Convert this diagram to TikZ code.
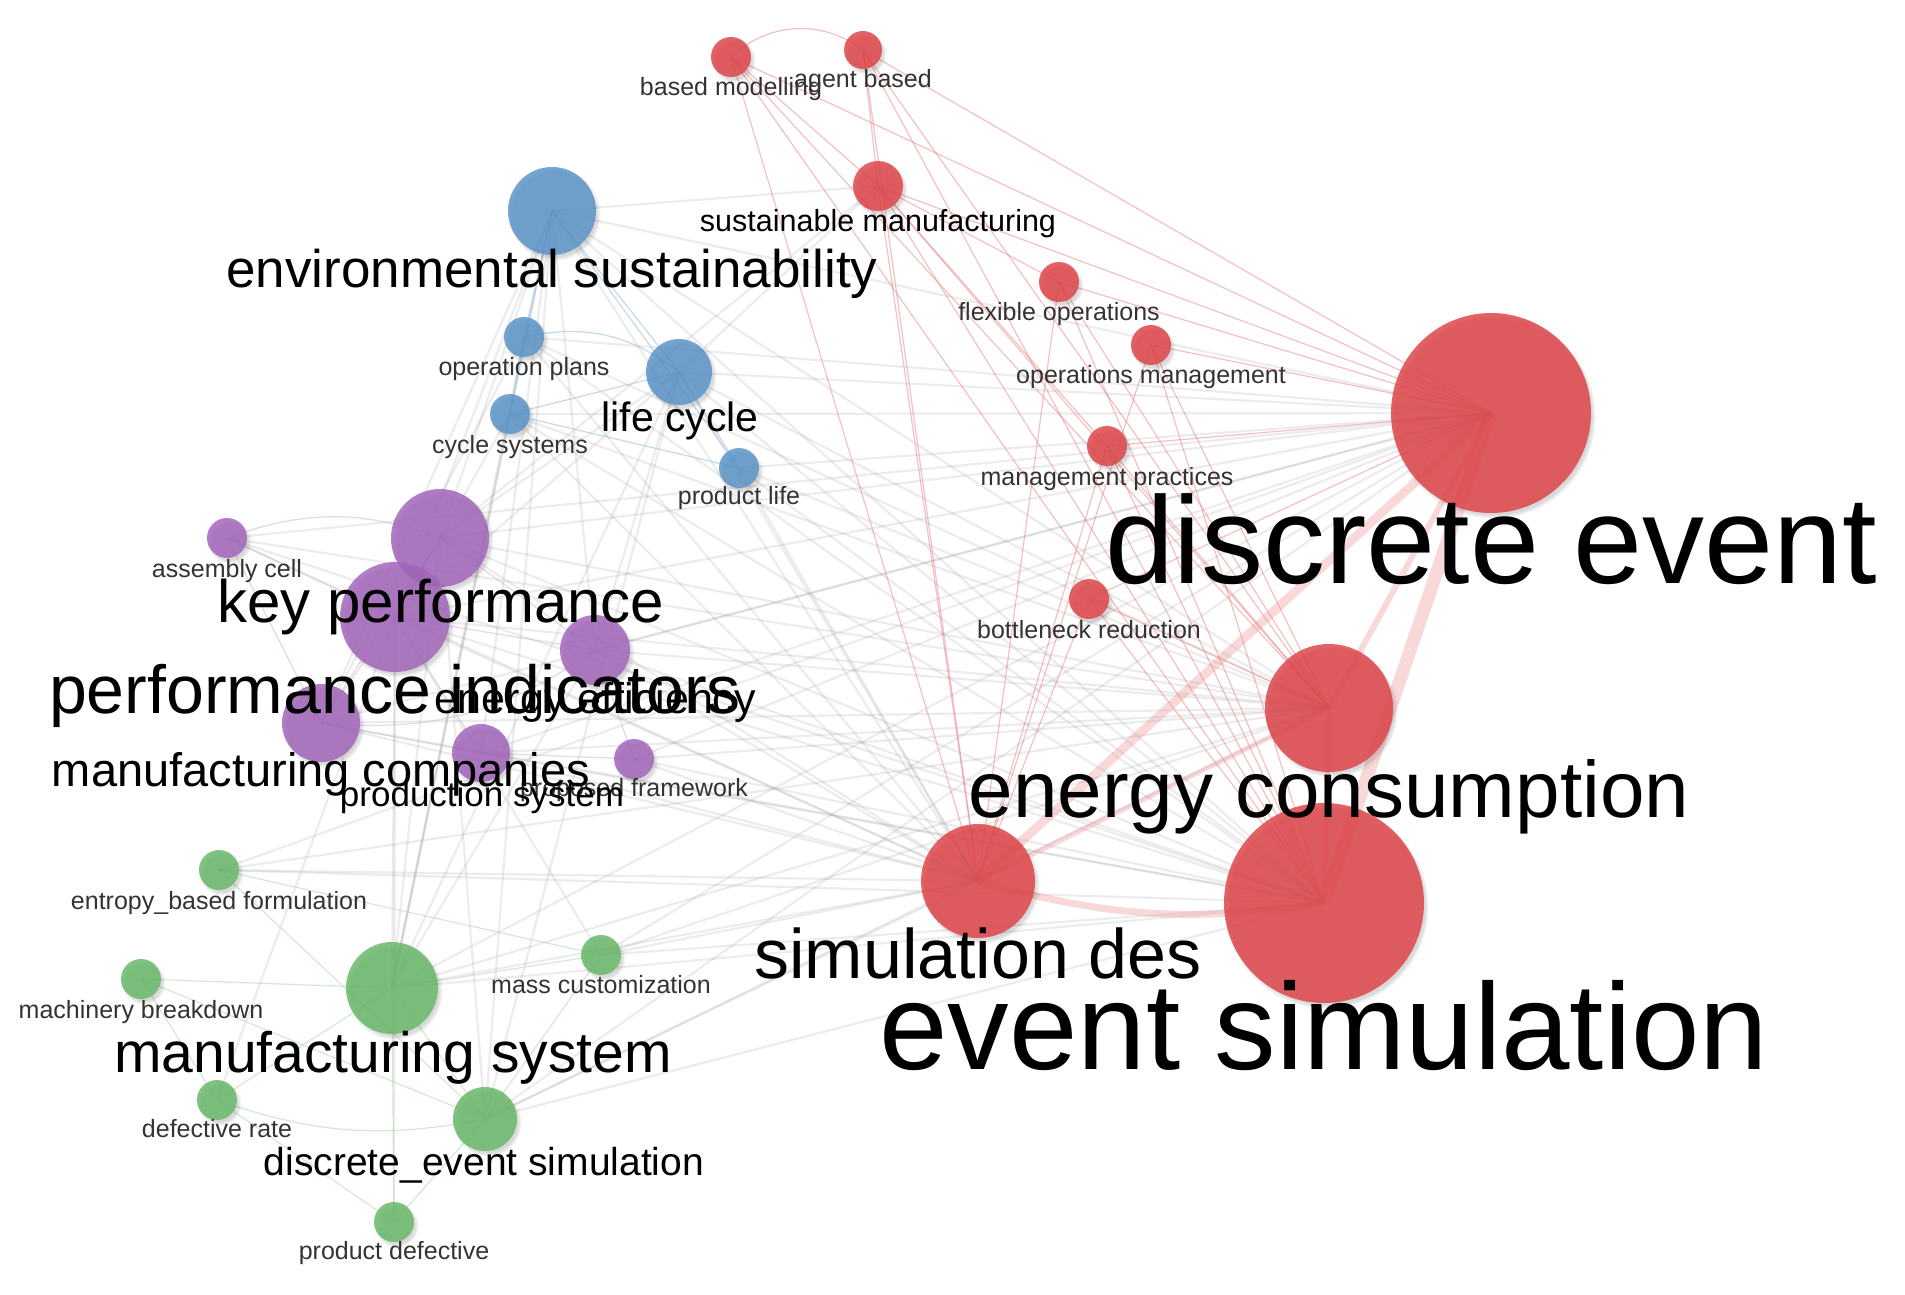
\documentclass[tikz,border=0pt]{standalone}
\usepackage{fontspec}
\setmainfont{Liberation Sans}
\usetikzlibrary{backgrounds,shadows.blur}
\definecolor{vosred}{RGB}{222,70,74}
\definecolor{vosblue}{RGB}{92,148,200}
\definecolor{vospurple}{RGB}{163,102,188}
\definecolor{vosgreen}{RGB}{106,184,106}
\tikzset{
  kw/.style={circle,draw=none,inner sep=0,outer sep=0,fill opacity=0.85,
             blur shadow={shadow xshift=3pt,shadow yshift=-4pt,shadow opacity=18,shadow blur steps=6}},
  kw red/.style={kw,fill=vosred},
  kw blue/.style={kw,fill=vosblue},
  kw purple/.style={kw,fill=vospurple},
  kw green/.style={kw,fill=vosgreen},
  link/.style={gray!75,line width=2.2pt,opacity=0.2},
  link red/.style={vosred!75,line width=1.2pt,opacity=0.45},
  link blue/.style={vosblue!60,line width=1.2pt,opacity=0.6},
  link purple/.style={vospurple!55,line width=1.2pt,opacity=0.5},
  link green/.style={vosgreen!55,line width=1.2pt,opacity=0.55},
  link thick/.style={vosred!60,opacity=0.35},
  lab/.style={anchor=base,inner sep=0,text=black},
  lab small/.style={lab,text=black!80,font=\fontsize{25}{25}\selectfont}
}
\begin{document}
\begin{tikzpicture}[x=1pt,y=-1pt]
\useasboundingbox (0,0) rectangle (1905,1294);

% Draw keyword nodes, cluster by cluster
\foreach \n/\x/\y/\rad in {bm/731/57/20,ab/863/50/19,sm/878/186/25,fo/1059/282/20,
    om/1151/345/20,mp/1107/446/20,br/1089/599/20,de/1491/413/100,ec/1329/708/64,
    es/1324/903/100,sd/978/881/57}{%
  \node[kw red,minimum size=\rad*2pt] (\n) at (\x,\y) {};
}
\foreach \n/\x/\y/\rad in {envs/552/211/44,op/524/337/20,lc/679/372/33,
    cs/510/414/20,pl/739/468/20}{%
  \node[kw blue,minimum size=\rad*2pt] (\n) at (\x,\y) {};
}
\foreach \n/\x/\y/\rad in {ac/227/538/20,kp/440/538/49,pi/395/617/55,ee/595/650/35,
    mc/321/723/39,ps/481/753/29,pf/634/759/20}{%
  \node[kw purple,minimum size=\rad*2pt] (\n) at (\x,\y) {};
}
\foreach \n/\x/\y/\rad in {ebf/219/870/20,mb/141/979/20,ms/392/988/46,mcu/601/955/20,
    dr/217/1100/20,des/485/1119/32,pd/394/1222/20}{%
  \node[kw green,minimum size=\rad*2pt] (\n) at (\x,\y) {};
}

% Draw links behind the nodes
\begin{scope}[on background layer]
  % links between clusters
  \foreach \a in {envs,op,lc,cs,pl,ac,kp,pi,ee,mc,ps,pf,ebf,ms,mcu,des}{%
    \foreach \b in {de,es,ec,sd}{%
      \draw[link] (\a.center) -- (\b.center);
    }
  }
  \foreach \a/\b in {ms/envs,ms/op,ms/cs,ms/kp,ms/pi,ms/lc,des/envs,des/kp,des/lc,
      pd/pi,dr/pi,mc/envs,pi/envs,kp/envs,kp/lc,pi/lc,ee/lc,ee/envs,ps/envs,
      mc/op,pi/cs,ms/ee,mcu/pi,envs/sm,lc/sm,kp/sm}{%
    \draw[link] (\a.center) -- (\b.center);
  }
  % red cluster
  \foreach \a in {bm,ab,sm,fo,om,mp,br}{%
    \foreach \b in {de,es,ec,sd}{%
      \draw[link red] (\a.center) -- (\b.center);
    }
  }
  \draw[link red] (bm.center) to[bend left=40] (ab.center);
  \draw[link red] (bm.center) -- (sm.center);
  \draw[link red] (ab.center) -- (sm.center);
  \draw[link red] (sm.center) -- (fo.center);
  \draw[link red] (sm.center) -- (mp.center);
  \draw[link thick,line width=13pt] (de.center) -- (es.center);
  \draw[link thick,line width=9pt] (de.center) -- (sd.center);
  \draw[link thick,line width=7pt] (sd.center) to[bend right=12] (es.center);
  \draw[link thick,line width=6pt] (ec.center) -- (de.center);
  \draw[link thick,line width=5pt] (ec.center) -- (sd.center);
  \draw[link thick,line width=5pt] (ec.center) -- (es.center);
  % blue cluster
  \foreach \a/\b in {envs/op,envs/lc,envs/cs,envs/pl,cs/lc,cs/pl,lc/pl,op/cs}{%
    \draw[link blue] (\a.center) -- (\b.center);
  }
  \draw[link blue] (op.center) to[bend left=25] (lc.center);
  % purple cluster
  \foreach \a/\b in {ac/pi,ac/mc,kp/pi,kp/ee,pi/ee,pi/mc,pi/ps,mc/ps,ee/pf,ps/pf,kp/mc}{%
    \draw[link purple] (\a.center) -- (\b.center);
  }
  \draw[link purple] (ac.center) to[bend left=20] (kp.center);
  \draw[link purple] (mc.center) to[bend right=20] (ee.center);
  % green cluster
  \foreach \a/\b in {ebf/mcu,ebf/des,mb/ms,mb/dr,mb/des,ms/mcu,ms/dr,ms/des,ms/pd,
      dr/pd,des/pd,mcu/des}{%
    \draw[link green] (\a.center) -- (\b.center);
  }
  \draw[link green] (dr.center) to[bend right=15] (des.center);
\end{scope}

% Labels of the small keywords
\foreach \n/\x/\y/\t in {bm/731/95/based modelling,ab/863/87/agent based,
    fo/1059/320/flexible operations,om/1151/383/operations management,
    mp/1107/485/management practices,br/1089/638/bottleneck reduction,
    op/524/375/operation plans,cs/510/453/cycle systems,pl/739/504/product life,
    ac/227/577/assembly cell,pf/634/796/proposed framework,
    ebf/219/909/entropy\_based formulation,mb/141/1018/machinery breakdown,
    mcu/601/993/mass customization,dr/217/1137/defective rate,
    pd/394/1259/product defective}{%
  \node[lab small] (\n-lab) at (\x,\y) {\t};
}
% Labels of the large keywords
\foreach \n/\x/\y/\s/\t in {sm/878/231/30.5/sustainable manufacturing,
    de/1491/583/124/discrete event,ec/1329/817/80/energy consumption,
    es/1324/1069/123/event simulation,sd/978/978/70/simulation des,
    envs/552/287/53/environmental sustainability,lc/680/431/41/life cycle,
    kp/441/622/60/key performance,pi/395/713/68/performance indicators,
    ee/595/713/43/energy efficiency,mc/321/786/47/manufacturing companies,
    ps/482/806/35/production system,ms/393/1072/57/manufacturing system,
    des/484/1175/39/discrete\_event simulation}{%
  \node[lab,font=\fontsize{\s}{\s}\selectfont] (\n-lab) at (\x,\y) {\t};
}
\end{tikzpicture}
\end{document}
